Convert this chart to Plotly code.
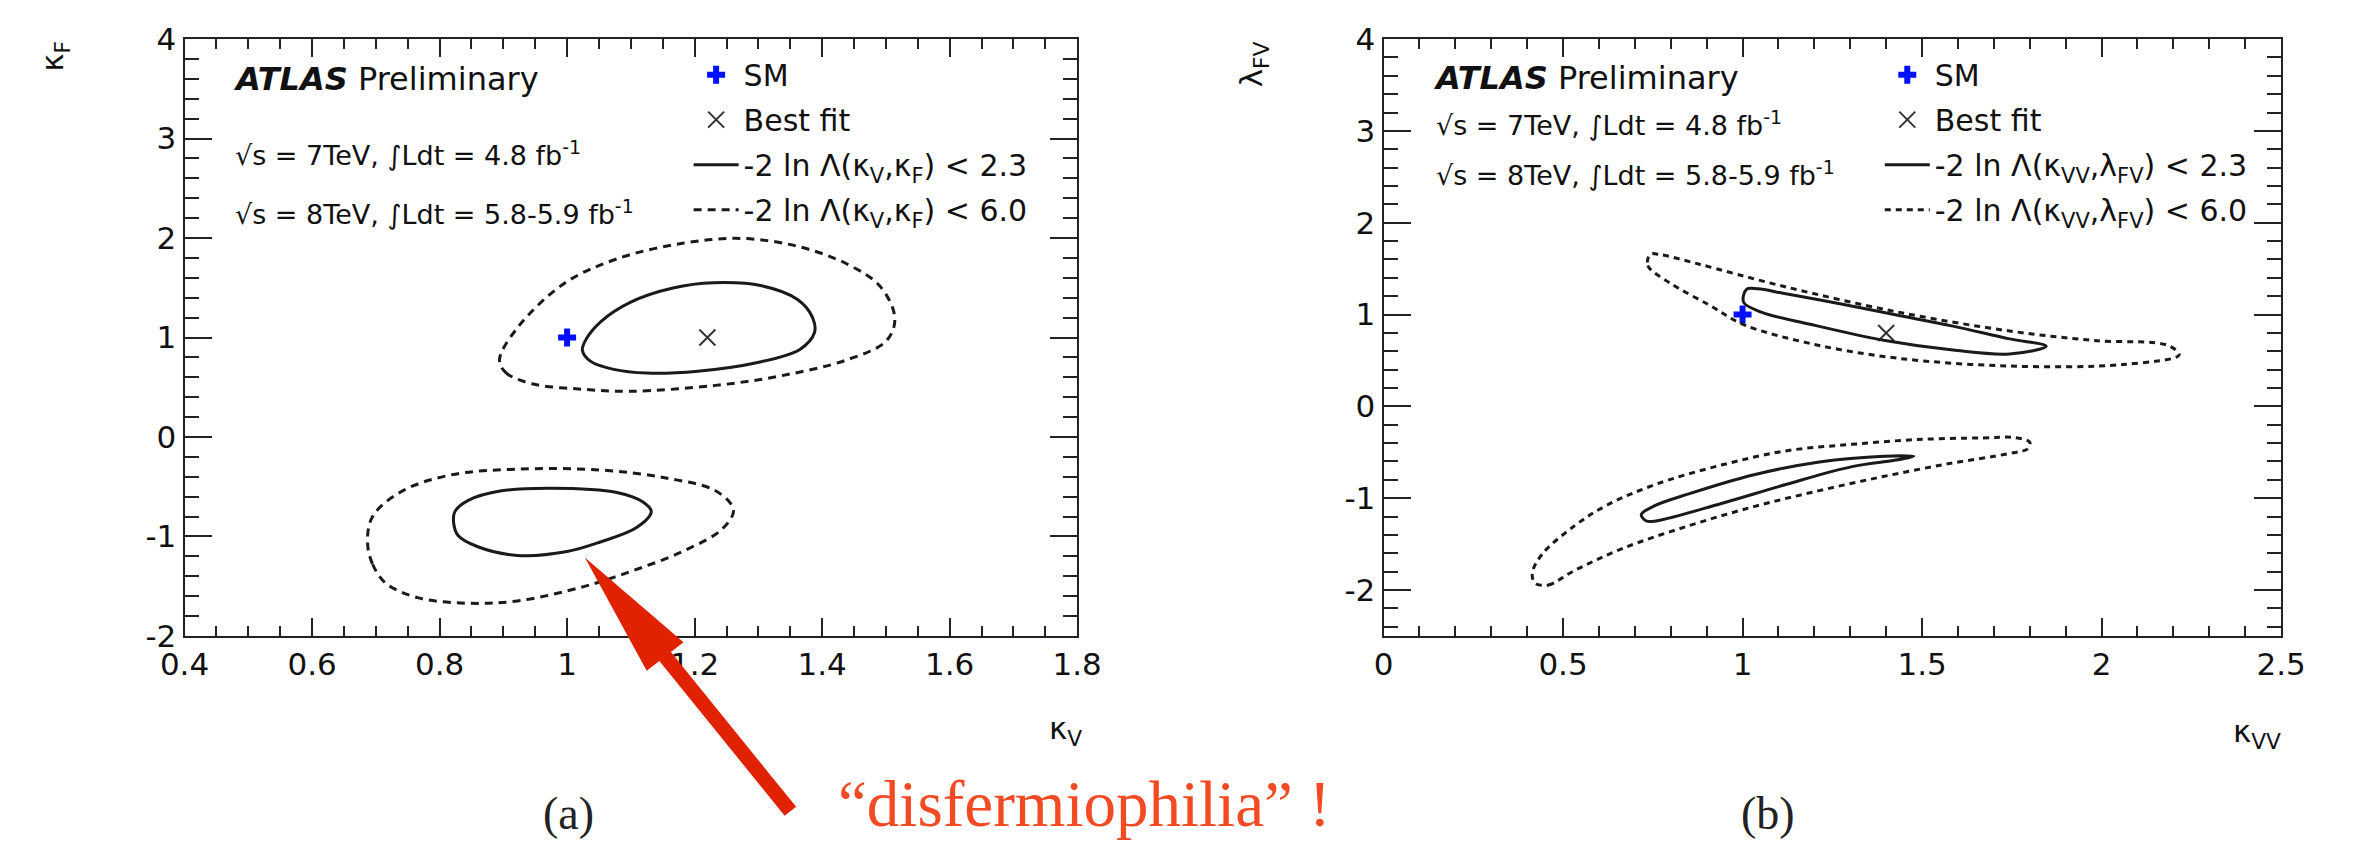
import plotly.graph_objects as go

W, H = 2356, 859
SANS = "DejaVu Sans, Liberation Sans, Arial, sans-serif"
SERIF = "Liberation Serif, Times New Roman, serif"

# ---------------- panel (a): kappa_V vs kappa_F ----------------
a_sm_x, a_sm_y = [1.0], [1.0]
a_best_x, a_best_y = [1.22], [1.0]

# 68% CL (-2 ln L < 2.3), region with kappa_F > 0
a_c23_up_x = [1.024, 1.037, 1.073, 1.125, 1.205, 1.295, 1.365, 1.388, 1.385, 1.362,
              1.305, 1.230, 1.166, 1.099, 1.053, 1.030]
a_c23_up_y = [0.872, 0.760, 0.680, 0.643, 0.662, 0.744, 0.880, 1.050, 1.200, 1.380,
              1.520, 1.550, 1.498, 1.354, 1.161, 0.985]
# 68% CL, region with kappa_F < 0
a_c23_lo_x = [0.822, 0.829, 0.860, 0.922, 1.000, 1.052, 1.109, 1.132, 1.119, 1.078,
              0.974, 0.897, 0.845, 0.824]
a_c23_lo_y = [-0.862, -0.990, -1.103, -1.190, -1.151, -1.055, -0.910, -0.750, -0.653, -0.557,
              -0.515, -0.541, -0.637, -0.750]
# 95% CL (-2 ln L < 6.0)
a_c60_up_x = [0.894, 0.904, 0.945, 1.022, 1.100, 1.233, 1.336, 1.439, 1.501, 1.514,
              1.491, 1.439, 1.362, 1.274, 1.181, 1.078, 0.996, 0.922]
a_c60_up_y = [0.776, 0.647, 0.535, 0.481, 0.460, 0.519, 0.616, 0.776, 0.968, 1.194,
              1.514, 1.739, 1.916, 1.996, 1.948, 1.790, 1.546, 1.097]
a_c60_lo_x = [0.687, 0.695, 0.716, 0.767, 0.845, 0.922, 1.026, 1.103, 1.181, 1.243,
              1.261, 1.233, 1.155, 1.052, 0.922, 0.819, 0.742, 0.695]
a_c60_lo_y = [-1.055, -1.279, -1.472, -1.617, -1.671, -1.648, -1.504, -1.344, -1.151, -0.926,
              -0.733, -0.541, -0.412, -0.332, -0.323, -0.380, -0.541, -0.798]

# ---------------- panel (b): kappa_VV vs lambda_FV ----------------
b_sm_x, b_sm_y = [1.0], [1.0]
b_best_x, b_best_y = [1.40], [0.80]

b_c23_up_x = [1.011, 1.003, 1.050, 1.192, 1.397, 1.586, 1.744, 1.846, 1.744, 1.586,
              1.429, 1.271, 1.113, 1.043]
b_c23_up_y = [1.274, 1.134, 1.030, 0.891, 0.717, 0.613, 0.571, 0.655, 0.735, 0.874,
              0.995, 1.117, 1.232, 1.280]
b_c23_lo_x = [0.718, 0.732, 0.759, 0.941, 1.123, 1.305, 1.423, 1.477, 1.395, 1.214,
              1.032, 0.850, 0.750]
b_c23_lo_y = [-1.178, -1.248, -1.248, -1.057, -0.848, -0.656, -0.587, -0.542, -0.542, -0.605,
              -0.744, -0.953, -1.091]
b_c60_up_x = [0.743, 0.736, 0.798, 0.909, 1.003, 1.192, 1.429, 1.744, 2.059, 2.216,
              2.185, 1.980, 1.744, 1.429, 1.113, 0.877, 0.767]
b_c60_up_y = [1.656, 1.535, 1.343, 1.100, 0.891, 0.682, 0.526, 0.439, 0.456, 0.560,
              0.664, 0.717, 0.821, 1.030, 1.308, 1.551, 1.656]
b_c60_lo_x = [0.423, 0.459, 0.532, 0.668, 0.850, 1.032, 1.214, 1.395, 1.577, 1.740,
              1.795, 1.800, 1.760, 1.668, 1.486, 1.305, 1.123, 0.941, 0.759, 0.623,
              0.532, 0.441, 0.414]
b_c60_lo_y = [-1.926, -1.944, -1.787, -1.544, -1.300, -1.091, -0.917, -0.761, -0.622, -0.515,
              -0.460, -0.390, -0.340, -0.343, -0.361, -0.413, -0.483, -0.639, -0.848, -1.074,
              -1.300, -1.613, -1.822]

# axis ticks
a_x_range, a_y_range = [0.4, 1.8], [-2.0, 4.0]
b_x_range, b_y_range = [0.0, 2.5], [-2.5, 4.0]
a_xtick_vals = [0.4, 0.6, 0.8, 1.0, 1.2, 1.4, 1.6, 1.8]
a_xtick_text = ["0.4", "0.6", "0.8", "1", "1.2", "1.4", "1.6", "1.8"]
b_xtick_vals = [0.0, 0.5, 1.0, 1.5, 2.0, 2.5]
b_xtick_text = ["0", "0.5", "1", "1.5", "2", "2.5"]
ytick_vals = [-2, -1, 0, 1, 2, 3, 4]
ytick_text = ["-2", "-1", "0", "1", "2", "3", "4"]


def closed(xs, ys):
    return list(xs) + [xs[0]], list(ys) + [ys[0]]


def join_loops(*loops):
    xs, ys = [], []
    for i, (lx, ly) in enumerate(loops):
        cx, cy = closed(lx, ly)
        if i:
            xs.append(None)
            ys.append(None)
        xs += cx
        ys += cy
    return xs, ys


def px(x):
    return x / W


def py(y):
    return 1 - y / H


fig = go.Figure()

panels = [
    dict(tag="a", xa="x", ya="y", legend="legend",
         sm=(a_sm_x, a_sm_y), best=(a_best_x, a_best_y),
         c23=join_loops((a_c23_up_x, a_c23_up_y), (a_c23_lo_x, a_c23_lo_y)),
         c60=join_loops((a_c60_up_x, a_c60_up_y), (a_c60_lo_x, a_c60_lo_y)),
         lab23="-2 ln Λ(κ<sub>V</sub>,κ<sub>F</sub>) &lt; 2.3",
         lab60="-2 ln Λ(κ<sub>V</sub>,κ<sub>F</sub>) &lt; 6.0",
         dash="8px,6px"),
    dict(tag="b", xa="x2", ya="y2", legend="legend2",
         sm=(b_sm_x, b_sm_y), best=(b_best_x, b_best_y),
         c23=join_loops((b_c23_up_x, b_c23_up_y), (b_c23_lo_x, b_c23_lo_y)),
         c60=join_loops((b_c60_up_x, b_c60_up_y), (b_c60_lo_x, b_c60_lo_y)),
         lab23="-2 ln Λ(κ<sub>VV</sub>,λ<sub>FV</sub>) &lt; 2.3",
         lab60="-2 ln Λ(κ<sub>VV</sub>,λ<sub>FV</sub>) &lt; 6.0",
         dash="6px,5px"),
]

for p in panels:
    t = p["tag"]
    fig.add_trace(go.Scatter(
        x=p["sm"][0], y=p["sm"][1], mode="markers", name="SM", legendgroup=t + "sm",
        marker=dict(symbol="cross", size=15, color="#0010ff"),
        xaxis=p["xa"], yaxis=p["ya"], legend=p["legend"]))
    fig.add_trace(go.Scatter(
        x=p["best"][0], y=p["best"][1], mode="markers", name="Best fit", legendgroup=t + "bf",
        marker=dict(symbol="x-thin", size=16, line=dict(width=2, color="#333")),
        xaxis=p["xa"], yaxis=p["ya"], legend=p["legend"]))
    fig.add_trace(go.Scatter(
        x=p["c23"][0], y=p["c23"][1], mode="lines", name=p["lab23"], legendgroup=t + "23",
        line=dict(color="#1a1a1a", width=3, shape="spline", smoothing=1.0),
        connectgaps=False, xaxis=p["xa"], yaxis=p["ya"], legend=p["legend"]))
    fig.add_trace(go.Scatter(
        x=p["c60"][0], y=p["c60"][1], mode="lines", name=p["lab60"], legendgroup=t + "60",
        line=dict(color="#1a1a1a", width=3, shape="spline", smoothing=1.0, dash=p["dash"]),
        connectgaps=False, xaxis=p["xa"], yaxis=p["ya"], legend=p["legend"]))

tickfont = dict(family=SANS, size=31, color="#111")


def xaxis_cfg(domain, rng, vals, text, minor_dtick, anchor):
    return dict(domain=domain, range=rng, tickvals=vals, ticktext=text, anchor=anchor,
                showline=True, linecolor="#222", linewidth=2, mirror="ticks",
                ticks="inside", ticklen=18, tickwidth=2, tickcolor="#222",
                showgrid=False, zeroline=False, tickfont=tickfont,
                minor=dict(ticks="inside", ticklen=10, tickwidth=2, tickcolor="#222",
                           dtick=minor_dtick, tick0=0, showgrid=False))


def yaxis_cfg(domain, rng, anchor):
    return dict(domain=domain, range=rng, tickvals=ytick_vals, ticktext=ytick_text,
                anchor=anchor,
                showline=True, linecolor="#222", linewidth=2, mirror="ticks",
                ticks="inside", ticklen=27, tickwidth=2, tickcolor="#222",
                showgrid=False, zeroline=False, tickfont=tickfont,
                minor=dict(ticks="inside", ticklen=14, tickwidth=2, tickcolor="#222",
                           dtick=0.2, tick0=0, showgrid=False))


ydom = [py(645), py(22)]
legend_common = dict(xanchor="left", yanchor="top", bgcolor="rgba(0,0,0,0)",
                     font=dict(family=SANS, size=30, color="#111"),
                     itemwidth=45, tracegroupgap=3, traceorder="grouped", borderwidth=0)

fig.update_layout(
    width=W, height=H, autosize=False,
    margin=dict(l=0, r=0, t=0, b=0),
    paper_bgcolor="white", plot_bgcolor="white",
    xaxis=xaxis_cfg([px(163), px(1075)], a_x_range, a_xtick_vals, a_xtick_text, 0.05, "y"),
    yaxis=yaxis_cfg(ydom, a_y_range, "x"),
    xaxis2=xaxis_cfg([px(1388), px(2305)], b_x_range, b_xtick_vals, b_xtick_text, 0.1, "y2"),
    yaxis2=yaxis_cfg(ydom, b_y_range, "x2"),
    legend=dict(x=px(678), y=py(32), **legend_common),
    legend2=dict(x=px(1895), y=py(32), **legend_common),
    showlegend=True,
)

ann = []


def text(x, y, s, size, family=SANS, color="#111", xanchor="left", angle=0):
    ann.append(dict(x=px(x), y=py(y), xref="paper", yref="paper", text=s,
                    showarrow=False, xanchor=xanchor, yanchor="middle", textangle=angle,
                    font=dict(family=family, size=size, color=color)))


# panel (a) captions
text(210, 64, "<b><i>ATLAS</i></b> Preliminary", 32)
text(213, 141, "√s = 7TeV, ∫Ldt = 4.8 fb<sup>-1</sup>", 27)
text(213, 203, "√s = 8TeV, ∫Ldt = 5.8-5.9 fb<sup>-1</sup>", 27)
text(1082, 744, "κ<sub>V</sub>", 31, xanchor="right")
text(30, 40, "κ<sub>F</sub>", 31, xanchor="center", angle=-90)
text(555, 830, "(a)", 46, family=SERIF, color="#222", xanchor="center")

# panel (b) captions
text(1436, 63, "<b><i>ATLAS</i></b> Preliminary", 32)
text(1440, 110, "√s = 7TeV, ∫Ldt = 4.8 fb<sup>-1</sup>", 27)
text(1440, 162, "√s = 8TeV, ∫Ldt = 5.8-5.9 fb<sup>-1</sup>", 27)
text(2307, 747, "κ<sub>VV</sub>", 31, xanchor="right")
text(1256, 48, "λ<sub>FV</sub>", 31, xanchor="center", angle=-90)
text(1781, 830, "(b)", 46, family=SERIF, color="#222", xanchor="center")

# callout
text(829, 820, "“disfermiophilia” !", 65, family=SERIF, color="#f24a22")

fig.update_layout(annotations=ann)

# red arrow pointing at the kappa_F < 0 solution
tip = (572.0, 563.0)
tail = (782.0, 828.0)
head_len, head_half, shaft_half = 132.0, 24.0, 7.5
dx, dy = tip[0] - tail[0], tip[1] - tail[1]
L = (dx * dx + dy * dy) ** 0.5
ux, uy = dx / L, dy / L
nx, ny = -uy, ux
bx, by = tip[0] - ux * head_len, tip[1] - uy * head_len
poly = [
    (tail[0] + nx * shaft_half, tail[1] + ny * shaft_half),
    (bx + nx * shaft_half, by + ny * shaft_half),
    (bx + nx * head_half, by + ny * head_half),
    tip,
    (bx - nx * head_half, by - ny * head_half),
    (bx - nx * shaft_half, by - ny * shaft_half),
    (tail[0] - nx * shaft_half, tail[1] - ny * shaft_half),
]
path = "M " + " L ".join(f"{px(a):.5f},{py(b):.5f}" for a, b in poly) + " Z"
fig.add_shape(type="path", path=path, xref="paper", yref="paper",
              fillcolor="#e02200", line=dict(width=0), layer="above")

fig.write_html("out.html")
